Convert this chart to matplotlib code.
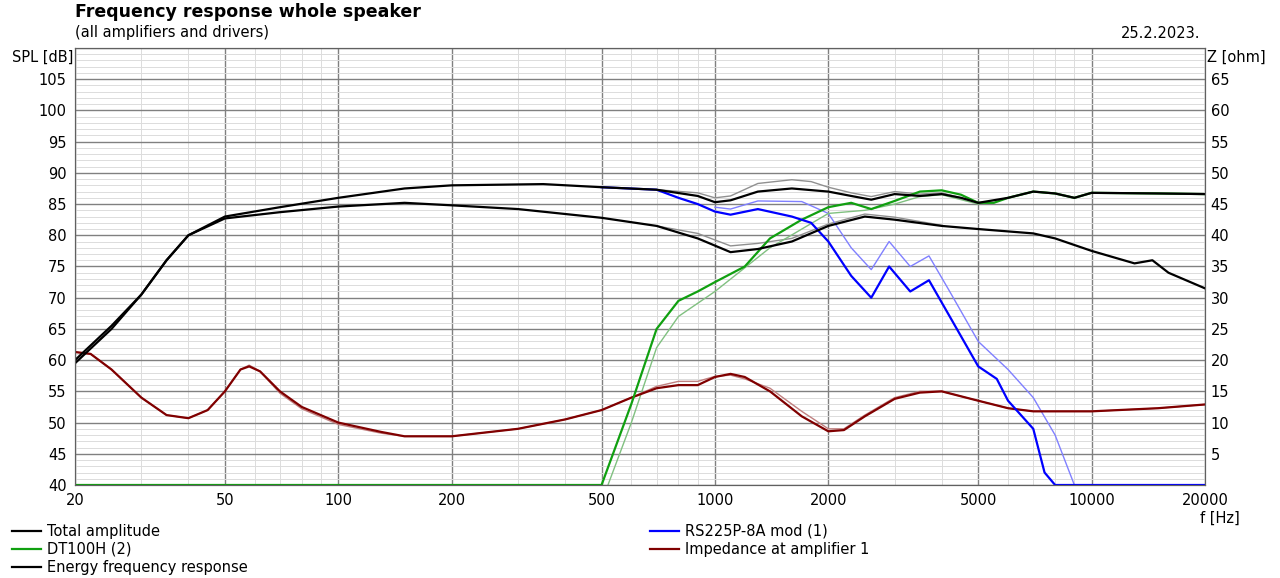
import numpy as np
import matplotlib.pyplot as plt
from matplotlib.ticker import FixedLocator, NullFormatter

# Total amplitude
tot_f = [20, 25, 30, 35, 40, 50, 70, 100, 150, 200, 350, 500, 700, 900, 1000, 1100, 1300, 1600, 2000, 2300, 2600, 3000, 3500, 4000, 4500, 5000, 6000, 7000, 8000, 9000, 10000, 15000, 20000]
tot_db = [60, 65.5, 70.5, 76, 80, 83, 84.5, 86, 87.5, 88, 88.2, 87.7, 87.3, 86.3, 85.3, 85.6, 87, 87.5, 87, 86.3, 85.7, 86.6, 86.3, 86.6, 86, 85.2, 86, 87, 86.7, 86, 86.8, 86.7, 86.6]
tot2_f = [700, 900, 1000, 1100, 1300, 1600, 1800, 2000, 2300, 2600, 3000, 3500, 4000, 5000]
tot2_db = [87.3, 86.8, 86, 86.3, 88.3, 88.9, 88.6, 87.7, 86.8, 86.2, 87, 86.6, 86.8, 85.3]

# Energy frequency response
en_f = [20, 25, 30, 35, 40, 50, 70, 100, 150, 200, 300, 500, 700, 900, 1100, 1300, 1600, 2000, 2500, 3000, 4000, 5000, 7000, 8000, 10000, 13000, 14500, 16000, 20000]
en_db = [59.5, 65, 70.5, 76, 80, 82.7, 83.7, 84.6, 85.2, 84.8, 84.2, 82.8, 81.5, 79.5, 77.3, 77.8, 79, 81.5, 83, 82.5, 81.5, 81, 80.3, 79.5, 77.5, 75.5, 76, 74, 71.5]
en2_f = [700, 900, 1100, 1300, 1600, 2000, 2500, 3000, 4000]
en2_db = [81.5, 80.3, 78.3, 78.7, 79.5, 81.8, 83.4, 82.9, 81.6]

# RS225P-8A mod (1) (below 700 Hz it lies under the total amplitude)
rs_f = [500, 700, 800, 900, 1000, 1100, 1300, 1600, 1800, 2000, 2300, 2600, 2900, 3300, 3700, 4200, 5000, 5600, 6000, 7000, 7500, 8000, 20000]
rs_db = [87.7, 87.3, 86, 85, 83.8, 83.3, 84.2, 83, 82, 79, 73.5, 70, 75, 71, 72.8, 67, 59, 57, 53.5, 49, 42, 40, 40]
rs2_f = [1000, 1100, 1300, 1700, 2000, 2300, 2600, 2900, 3300, 3700, 4200, 5000, 6000, 7000, 8000, 9000]
rs2_db = [84.5, 84.2, 85.5, 85.4, 83.5, 78, 74.5, 79, 75, 76.7, 71, 63, 58.5, 54, 48, 40]

# DT100H (2)
dt_f = [20, 500, 600, 700, 800, 900, 1000, 1200, 1400, 1700, 2000, 2300, 2600, 3000, 3500, 4000, 4500, 5000, 5500, 6000, 7000, 8000, 9000, 10000, 15000, 20000]
dt_db = [40, 40, 53, 65, 69.5, 71, 72.5, 75, 79.5, 82.5, 84.5, 85.2, 84.2, 85.5, 87, 87.2, 86.5, 85.2, 85.2, 86, 87, 86.7, 86, 86.8, 86.7, 86.6]
dt2_f = [520, 600, 700, 800, 1000, 1400, 2000, 2500, 3000, 3500, 4000, 5000]
dt2_db = [40, 50, 62, 67, 71, 78, 83.5, 84, 85, 86.2, 86.5, 85]

# Impedance at amplifier 1 (plotted on SPL scale, Z = SPL - 40)
imp_f = [20, 22, 25, 30, 35, 40, 45, 50, 55, 58, 62, 70, 80, 100, 130, 150, 200, 300, 400, 500, 600, 700, 800, 900, 1000, 1100, 1200, 1400, 1700, 2000, 2200, 2500, 3000, 3500, 4000, 5000, 6000, 7000, 10000, 15000, 20000]
imp_db = [61.3, 61, 58.5, 54, 51.2, 50.7, 52, 55, 58.5, 59, 58.2, 55, 52.5, 50, 48.5, 47.8, 47.8, 49, 50.5, 52, 54, 55.5, 56, 56, 57.3, 57.8, 57.3, 55, 51, 48.6, 48.8, 51, 53.8, 54.8, 55, 53.5, 52.3, 51.8, 51.8, 52.3, 52.9]
imp2_db = [61.3, 61, 58.5, 54, 51.2, 50.7, 52, 55, 58.5, 59.2, 58.2, 54.7, 52.2, 49.7, 48.3, 47.8, 47.8, 49, 50.5, 52, 54, 55.8, 56.6, 56.6, 57.4, 57.6, 57, 55.5, 51.8, 49, 49, 51.2, 54, 55, 55, 53.5, 52.3, 51.8, 51.8, 52.3, 52.9]

fig = plt.figure(figsize=(12.8, 5.78), dpi=100)
ax = fig.add_axes([75/1280, 93/578, 1130/1280, 437/578])

ax.plot(tot2_f, tot2_db, color='#909090', lw=1)
ax.plot(en2_f, en2_db, color='#909090', lw=1)
ax.plot(rs2_f, rs2_db, color='#8080ff', lw=1)
ax.plot(dt2_f, dt2_db, color='#80c080', lw=1)
ax.plot(imp_f, imp2_db, color='#c08080', lw=1)
ax.plot(imp_f, imp_db, color='#800000', lw=1.6)
ax.plot(dt_f, dt_db, color='#10a010', lw=1.6)
ax.plot(rs_f, rs_db, color='#0000ff', lw=1.6)
ax.plot(en_f, en_db, color='black', lw=1.6)
ax.plot(tot_f, tot_db, color='black', lw=1.6)

ax.set_xscale('log')
ax.set_xlim(20, 20000)
ax.set_ylim(40, 110)
xt = [20, 50, 100, 200, 500, 1000, 2000, 5000, 10000, 20000]
ax.xaxis.set_major_locator(FixedLocator(xt))
ax.set_xticklabels([str(v) for v in xt])
minors = [m * d for d in [10, 100, 1000, 10000] for m in range(1, 10) if 20 <= m * d <= 20000 and m * d not in xt]
ax.xaxis.set_minor_locator(FixedLocator(minors))
ax.xaxis.set_minor_formatter(NullFormatter())
ax.set_yticks(range(40, 111, 5))
ax.set_yticklabels([str(v) if v <= 105 else '' for v in range(40, 111, 5)])
ax.set_yticks(range(40, 111, 1), minor=True)
ax.grid(which='major', color='#808080', lw=1)
ax.grid(which='minor', color='#dcdcdc', lw=0.7)
ax.set_axisbelow(True)
ax.tick_params(which='both', length=0, labelsize=10.5, pad=6)

ax2 = ax.twinx()
ax2.set_ylim(0, 70)
ax2.set_yticks(range(5, 66, 5))
ax2.tick_params(length=0, labelsize=10.5, pad=4)
for a in (ax, ax2):
    for s in a.spines.values():
        s.set_color('#606060')

fig.text(75/1280, 1 - 12/578, 'Frequency response whole speaker', fontsize=12.5, fontweight='bold', va='center')
fig.text(75/1280, 1 - 33/578, '(all amplifiers and drivers)', fontsize=10.5, va='center')
fig.text(1200/1280, 1 - 33/578, '25.2.2023.', fontsize=10.5, va='center', ha='right')
fig.text(12/1280, 1 - 57/578, 'SPL [dB]', fontsize=10.5, va='center')
fig.text(1207/1280, 1 - 57/578, 'Z [ohm]', fontsize=10.5, va='center')
fig.text(1200/1280, 1 - 518/578, 'f [Hz]', fontsize=10.5, va='center')

h = {}
for name, c in [('Total amplitude', 'black'), ('DT100H (2)', '#10a010'), ('Energy frequency response', 'black'),
                ('RS225P-8A mod (1)', '#0000ff'), ('Impedance at amplifier 1', '#800000')]:
    h[name], = ax.plot([], [], color=c, lw=1.6, label=name)
fig.legend(handles=[h['Total amplitude'], h['DT100H (2)'], h['Energy frequency response']],
           loc='upper left', bbox_to_anchor=(6/1280, 1 - 518/578), frameon=False, fontsize=10.5,
           handlelength=2, handletextpad=0.4, labelspacing=0.2, borderaxespad=0)
fig.legend(handles=[h['RS225P-8A mod (1)'], h['Impedance at amplifier 1']],
           loc='upper left', bbox_to_anchor=(644/1280, 1 - 518/578), frameon=False, fontsize=10.5,
           handlelength=2, handletextpad=0.4, labelspacing=0.2, borderaxespad=0)

fig.savefig('out.png', dpi=100)
